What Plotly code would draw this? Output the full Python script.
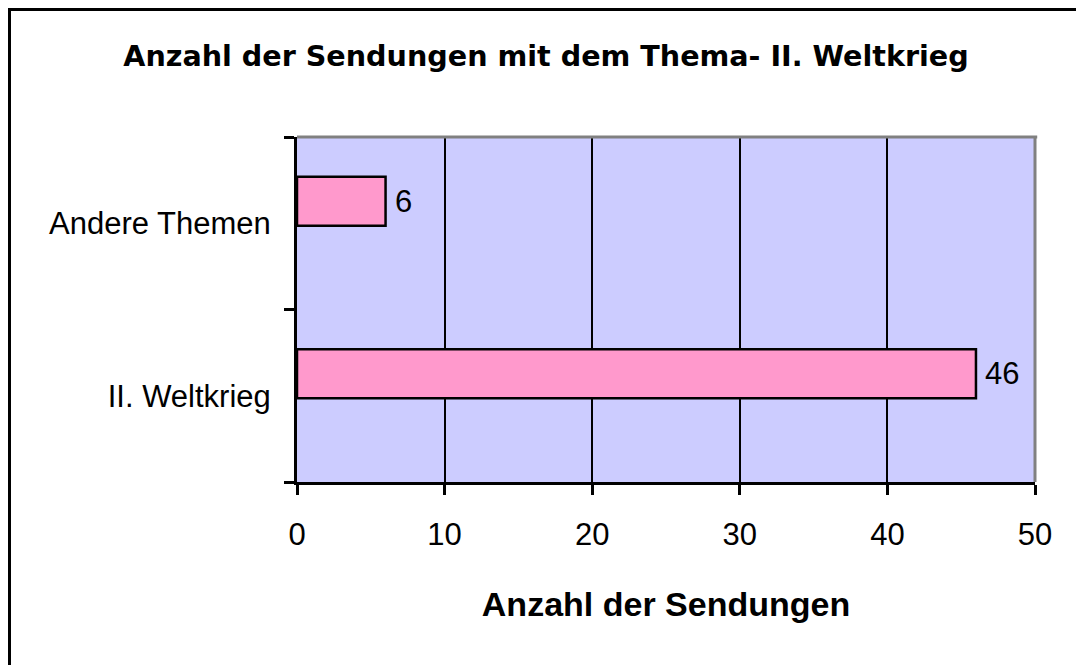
import plotly.graph_objects as go

categories = ["II. Weltkrieg", "Andere Themen"]
values = [46, 6]
value_labels = ["46", "6"]
x_ticks = [0, 10, 20, 30, 40, 50]

title_text = "Anzahl der Sendungen mit dem Thema- II. Weltkrieg"
x_title = "Anzahl der Sendungen"

# page body adds an 8px margin; work in reference pixels and shift
OFF = 8
W, H = 1084 - OFF, 665 - OFF
L, R, T, B = 297 - OFF, 1035 - OFF, 137 - OFF, 482 - OFF
pw, ph = R - L, B - T

def px_x(p):
    return (p - OFF - L) / pw

def px_y(p):
    return (B - (p - OFF)) / ph

fig = go.Figure()
fig.add_trace(go.Bar(
    y=categories, x=values, orientation="h",
    width=0.285, offset=-0.015,
    marker=dict(color="#FF99CC", line=dict(color="black", width=2.5)),
    hoverinfo="skip",
))

# value labels beside the bars
for cat, val, lab in zip(categories, values, value_labels):
    fig.add_annotation(x=val, y=cat, xref="x", yref="y", text=lab,
                       showarrow=False, xanchor="left", yanchor="middle",
                       xshift=7, yshift=22,
                       font=dict(family="Liberation Sans, Arial", size=31, color="black"))

fig.update_layout(
    width=W, height=H,
    margin=dict(l=L, r=W - R, t=T, b=H - B, pad=0),
    paper_bgcolor="white", plot_bgcolor="#CCCCFF",
    showlegend=False,
    font=dict(family="Liberation Sans, Arial", size=31, color="black"),
    title=dict(text="<b>" + title_text + "</b>", x=px_x(546), xanchor="center",
               xref="paper", y=1 - (56 - OFF) / H, yanchor="middle",
               font=dict(family="DejaVu Sans", size=28.6, color="black")),
)

fig.update_xaxes(
    range=[0, 50], tickvals=x_ticks, ticktext=[str(v) for v in x_ticks],
    ticks="outside", ticklen=10, tickwidth=2.5, tickcolor="black",
    showgrid=True, gridcolor="black", gridwidth=2,
    showline=True, linecolor="black", linewidth=3,
    zeroline=False, ticklabelstandoff=13,
    tickfont=dict(family="Liberation Sans, Arial", size=31, color="black"),
    title=dict(text="<b>" + x_title + "</b>", standoff=41,
               font=dict(family="Liberation Sans, Arial", size=34, color="black")),
)
fig.update_yaxes(
    type="category", categoryorder="array", categoryarray=categories,
    range=[-0.5, 1.5], tickson="boundaries",
    ticks="outside", ticklen=10, tickwidth=2.5, tickcolor="black",
    showgrid=False, showline=True, linecolor="black", linewidth=3,
    zeroline=False, ticklabelstandoff=17,
    tickfont=dict(family="Liberation Sans, Arial", size=31, color="black"),
)

# gray top/right border of plot area
fig.add_shape(type="line", xref="paper", yref="paper", x0=0, x1=1.003, y0=1, y1=1,
              line=dict(color="#808080", width=3))
fig.add_shape(type="line", xref="paper", yref="paper", x0=1, x1=1, y0=0, y1=1,
              line=dict(color="#808080", width=3))
# outer chart border
fig.add_shape(type="rect", xref="paper", yref="paper",
              x0=px_x(9.5), x1=px_x(1082.5), y0=px_y(667), y1=px_y(9.5),
              line=dict(color="black", width=3), fillcolor="rgba(0,0,0,0)")

fig.write_html("out.html")
